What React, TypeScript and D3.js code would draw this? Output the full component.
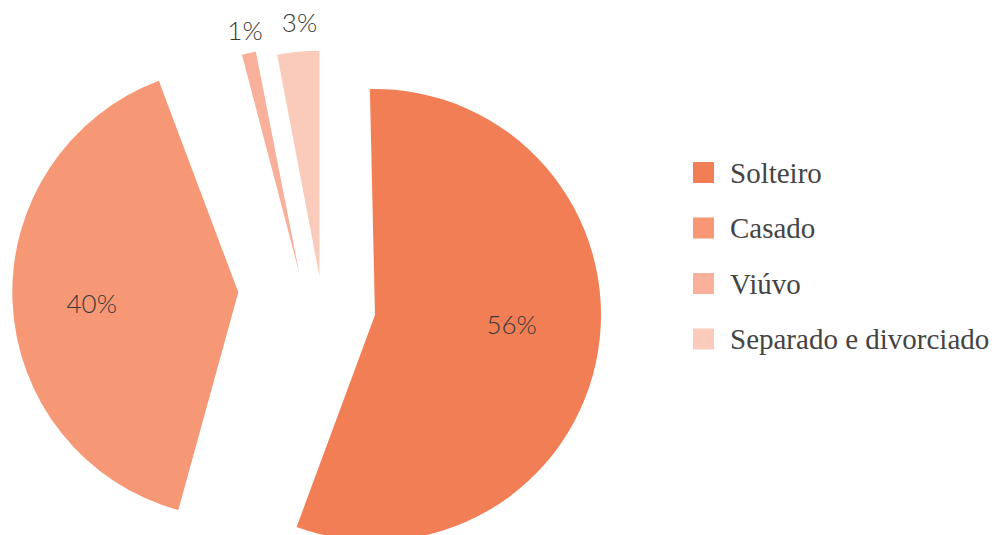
import * as d3 from "d3";

const categories = ["Solteiro", "Casado", "Viúvo", "Separado e divorciado"];
const shares = [56, 40, 1, 3];
const shareLabels = shares.map((v) => `${v}%`);
const colors = ["#F27E56", "#F69775", "#F8B09A", "#FACBBA"];

// each slice is pulled out of the pie on its own (offset + small turn)
const pieCenter = [320, 300];
const radius = 226;
const shifts = [
  { dx: 55, dy: 15, rot: -1.3 },
  { dx: -81.7, dy: -7.7, rot: -6.2 },
  { dx: -20.7, dy: -26.7, rot: -0.3 },
  { dx: -0.5, dy: -23.3, rot: 0 },
];
const labelRadius = [137, 147, 249, 255];
const labelTurn = [-5.3, -1.8, 0.3, 0.9];

export default function App() {
  const width = 999;
  const height = 535;

  const pie = d3
    .pie<number>()
    .sort(null)
    .value((d) => d);
  const arcs = pie(shares);
  const arc = d3.arc<d3.PieArcDatum<number>>().innerRadius(0).outerRadius(radius);

  const legendX = 693;
  const legendY = d3.scalePoint(categories, [162, 328.5]);

  return (
    <svg
      width={width}
      height={height}
      style={{ position: "absolute", left: 0, top: 0, background: "#fff" }}
    >
      <g>
        {arcs.map((a, i) => {
          const s = shifts[i];
          return (
            <path
              key={categories[i]}
              d={arc(a) as string}
              fill={colors[i]}
              transform={`translate(${pieCenter[0] + s.dx},${pieCenter[1] + s.dy}) rotate(${s.rot})`}
            />
          );
        })}
      </g>
      <g
        fontFamily="Lato, 'Open Sans', sans-serif"
        fontWeight={300}
        fontSize={26}
        fill="#3a3a3a"
        textAnchor="middle"
      >
        {arcs.map((a, i) => {
          const s = shifts[i];
          const ang =
            (a.startAngle + a.endAngle) / 2 +
            ((s.rot + labelTurn[i]) * Math.PI) / 180;
          const x = pieCenter[0] + s.dx + labelRadius[i] * Math.sin(ang);
          const y = pieCenter[1] + s.dy - labelRadius[i] * Math.cos(ang);
          return (
            <text key={categories[i]} x={x} y={y} dy="0.36em">
              {shareLabels[i]}
            </text>
          );
        })}
      </g>
      <g fontFamily="'Liberation Serif', serif" fontSize={29} fill="#444">
        {categories.map((c, i) => (
          <g key={c} transform={`translate(${legendX},${legendY(c)})`}>
            <rect width={21} height={21} fill={colors[i]} />
            <text x={37} y={20.5}>
              {c}
            </text>
          </g>
        ))}
      </g>
    </svg>
  );
}
